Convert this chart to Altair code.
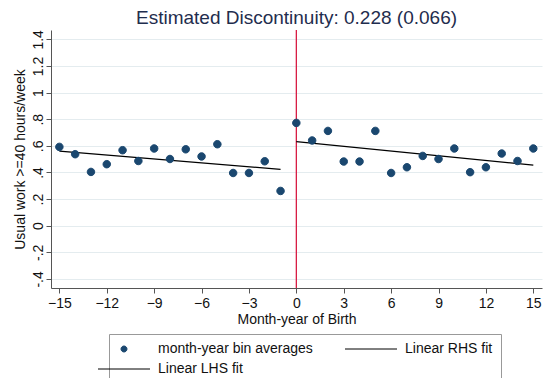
import altair as alt
import pandas as pd

# ---- data ----
months = [-15, -14, -13, -12, -11, -10, -9, -8, -7, -6, -5, -4, -3, -2, -1,
          0, 1, 2, 3, 4, 5, 6, 7, 8, 9, 10, 11, 12, 13, 14, 15]
share = [0.592, 0.537, 0.404, 0.462, 0.567, 0.486, 0.580, 0.501, 0.574, 0.520,
         0.612, 0.396, 0.396, 0.484, 0.261,
         0.772, 0.640, 0.712, 0.482, 0.482, 0.712, 0.396, 0.439, 0.524, 0.501,
         0.580, 0.402, 0.439, 0.542, 0.486, 0.580]
sides = ["LHS" if m < 0 else "RHS" for m in months]
cutoff = [0]
x_ticks = [-15, -12, -9, -6, -3, 0, 3, 6, 9, 12, 15]
y_ticks = [-0.4, -0.2, 0, 0.2, 0.4, 0.6, 0.8, 1.0, 1.2, 1.4]
# legend fills column by column: col 1 = points, LHS fit; col 2 = RHS fit
legend_items = ["month-year bin averages", "Linear LHS fit", "Linear RHS fit"]

NAVY = "#1a476f"
RED = "#d81b43"
FONT = "Liberation Sans"
CIRCLE = "M0.46,0A0.46,0.46,0,1,1,-0.46,0A0.46,0.46,0,1,1,0.46,0Z"
LINE = "M-4,0L4,0"

df = pd.DataFrame({"month": months, "share": share, "side": sides,
                   "series": legend_items[0]})
cut_df = pd.DataFrame({"month": cutoff})

x_scale = alt.Scale(domain=[-15.53, 15.55], nice=False, zero=False)
y_scale = alt.Scale(domain=[-0.468, 1.47], nice=False, zero=False)

y_label_expr = ("datum.value == 0 ? '0' : (abs(datum.value) < 1 ? "
                "(datum.value < 0 ? '-' : '') + substring(format(abs(datum.value), '.1f'), 1) : "
                "format(datum.value, '.1~f'))")

x_axis = alt.Axis(values=x_ticks, title="Month-year of Birth", grid=False,
                  tickSize=5, labelPadding=3, titlePadding=2,
                  labelFontSize=14, titleFontSize=14, titleFontWeight="normal",
                  domainColor="#555555", tickColor="#555555",
                  labelColor="#111111", titleColor="#111111")
y_axis = alt.Axis(values=y_ticks, title="Usual work >=40 hours/week", grid=True,
                  gridColor="#e4ecef", gridWidth=1, labelExpr=y_label_expr,
                  labelAngle=-90, labelAlign="center", labelBaseline="alphabetic",
                  tickSize=5, labelPadding=4, titlePadding=4,
                  labelFontSize=14, titleFontSize=14, titleFontWeight="normal",
                  domainColor="#555555", tickColor="#555555",
                  labelColor="#111111", titleColor="#111111")

rule = alt.Chart(cut_df).mark_rule(color=RED, strokeWidth=1.3).encode(
    x=alt.X("month:Q", scale=x_scale, axis=x_axis)
)

lines = alt.Chart(df).transform_regression(
    "month", "share", groupby=["side"]
).mark_line(color="black", strokeWidth=1.2).encode(
    x=alt.X("month:Q", scale=x_scale, axis=x_axis),
    y=alt.Y("share:Q", scale=y_scale, axis=y_axis),
    detail="side:N",
)

points = alt.Chart(df).mark_point(
    filled=False, fill=NAVY, strokeWidth=1, opacity=1, size=266
).encode(
    x=alt.X("month:Q", scale=x_scale, axis=x_axis),
    y=alt.Y("share:Q", scale=y_scale, axis=y_axis),
    color=alt.Color("series:N",
                    scale=alt.Scale(domain=legend_items, range=[NAVY, "black", "black"]),
                    legend=alt.Legend(title=None, orient="none", legendX=58, legendY=304,
                                      columns=2, symbolSize=169, symbolStrokeWidth=1,
                                      symbolFillColor=NAVY, symbolOpacity=1,
                                      labelFontSize=14, labelOffset=27, labelLimit=400,
                                      labelColor="#111111", labelFont=FONT,
                                      columnPadding=30, rowPadding=6, padding=8,
                                      strokeColor="#999999")),
    shape=alt.Shape("series:N",
                    scale=alt.Scale(domain=legend_items, range=[CIRCLE, LINE, LINE])),
)

chart = alt.layer(rule, lines, points).properties(
    width=491, height=258,
    autosize=alt.AutoSizeParams(type="none"),
    padding={"left": 51, "top": 30, "right": 1, "bottom": 90},
    title=alt.TitleParams("Estimated Discontinuity: 0.228 (0.066)", fontSize=19,
                          fontWeight="normal", color="#1f2d4e", font=FONT,
                          anchor="middle", frame="group", baseline="alphabetic",
                          offset=-14),
).configure(font=FONT).configure_view(stroke=None)

chart.save("out.html", embed_options={"renderer": "svg", "actions": False})
